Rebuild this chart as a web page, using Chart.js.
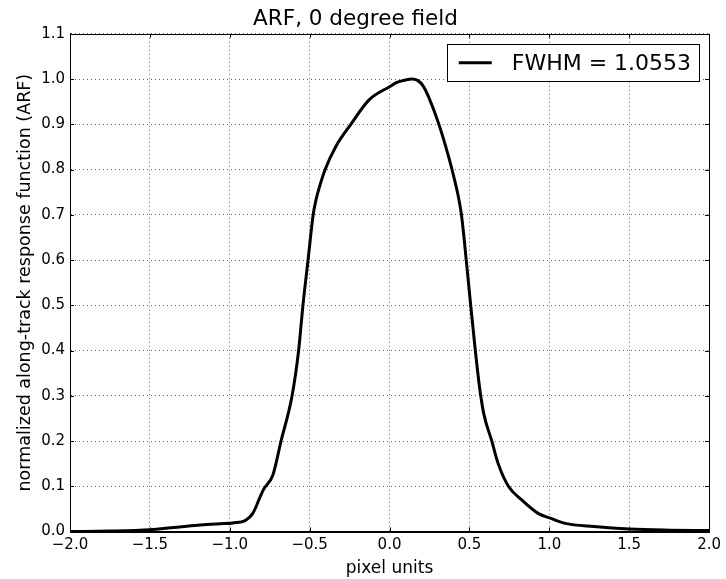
<!DOCTYPE html>
<html lang="en">
<head>
  <meta charset="UTF-8">
  <title>ARF, 0 degree field</title>
  <script src="https://cdn.jsdelivr.net/npm/chart.js"></script>
  <style>
    html, body { margin: 0; padding: 0; background: #fff; }
    #wrap { width: 726px; height: 579px; }
  </style>
</head>
<body>
  <div id="wrap"><canvas id="arf"></canvas></div>

  <script>
    // curve (pixel units vs normalized ARF)
    const xPixels = [
      -2.0, -1.75, -1.5, -1.35, -1.2, -1.06, -0.98, -0.9, -0.856, -0.814,
      -0.79, -0.73, -0.679, -0.61, -0.569, -0.542, -0.51, -0.478, -0.462, -0.451,
      -0.403, -0.336, -0.242, -0.128, 0.0, 0.05, 0.1, 0.14, 0.175, 0.21,
      0.245, 0.307, 0.37, 0.405, 0.428, 0.45, 0.466, 0.48, 0.508, 0.537, 0.563,
      0.59, 0.64, 0.68, 0.744, 0.827, 0.93, 1.01, 1.1, 1.28, 1.5, 1.75, 2.0
    ];
    const arfValues = [
      0.0, 0.001, 0.004, 0.009, 0.014, 0.017, 0.019, 0.025, 0.04, 0.073,
      0.092, 0.125, 0.20, 0.30, 0.40, 0.50, 0.60, 0.70, 0.73, 0.746,
      0.80, 0.851, 0.90, 0.954, 0.983, 0.993, 0.998, 1.0, 0.997, 0.985,
      0.96, 0.902, 0.828, 0.78, 0.745, 0.70, 0.65, 0.60, 0.50, 0.40, 0.32,
      0.26, 0.20, 0.15, 0.10, 0.07, 0.04, 0.029, 0.018, 0.011, 0.0055, 0.003, 0.002
    ];
    const seriesLabel = "FWHM = 1.0553";
    const xTicks = [-2.0, -1.5, -1.0, -0.5, 0.0, 0.5, 1.0, 1.5, 2.0];
    const yTicks = [0.0, 0.1, 0.2, 0.3, 0.4, 0.5, 0.6, 0.7, 0.8, 0.9, 1.0, 1.1];

    const points = xPixels.map((x, i) => ({ x: x, y: arfValues[i] }));
    const minus = s => s.replace("-", "\u2212");
    const FONT = "'DejaVu Sans', sans-serif";

    Chart.defaults.font.family = FONT;
    Chart.defaults.color = "#000";

    // black frame round the plot, inward ticks, and the boxed legend top right
    const frame = {
      id: "frame",
      afterDraw(chart) {
        const { ctx, chartArea: a, scales } = chart;
        ctx.save();
        ctx.strokeStyle = "#000";
        ctx.lineWidth = 1;
        ctx.beginPath();
        scales.x.ticks.forEach(t => {
          const px = Math.round(scales.x.getPixelForValue(t.value)) + 0.5;
          ctx.moveTo(px, a.bottom); ctx.lineTo(px, a.bottom - 4);
          ctx.moveTo(px, a.top); ctx.lineTo(px, a.top + 4);
        });
        scales.y.ticks.forEach(t => {
          const py = Math.round(scales.y.getPixelForValue(t.value)) + 0.5;
          ctx.moveTo(a.left, py); ctx.lineTo(a.left + 4, py);
          ctx.moveTo(a.right, py); ctx.lineTo(a.right - 4, py);
        });
        ctx.stroke();
        ctx.strokeRect(Math.round(a.left) + 0.5, Math.round(a.top) + 0.5,
          Math.round(a.right - a.left), Math.round(a.bottom - a.top));

        const ds = chart.data.datasets[0];
        ctx.font = "22px " + FONT;
        const tw = ctx.measureText(ds.label).width;
        const boxRight = a.right - 10;
        const textRight = boxRight - 8;
        const textLeft = textRight - tw;
        const lineEnd = textLeft - 20;
        const lineStart = lineEnd - 33;
        const boxLeft = lineStart - 12;
        const boxTop = a.top + 10.5;
        const boxH = 37;
        const cy = boxTop + boxH / 2;
        ctx.fillStyle = "#fff";
        ctx.fillRect(boxLeft, boxTop, boxRight - boxLeft, boxH);
        ctx.strokeRect(Math.round(boxLeft) + 0.5, Math.round(boxTop) + 0.5,
          Math.round(boxRight - boxLeft), boxH);
        ctx.beginPath();
        ctx.strokeStyle = ds.borderColor;
        ctx.lineWidth = ds.borderWidth;
        ctx.moveTo(lineStart, cy); ctx.lineTo(lineEnd, cy);
        ctx.stroke();
        ctx.fillStyle = "#000";
        ctx.textBaseline = "middle";
        ctx.textAlign = "left";
        ctx.fillText(ds.label, textLeft, cy + 1);
        ctx.restore();
      }
    };

    new Chart(document.getElementById("arf"), {
      type: "line",
      data: {
        datasets: [{
          label: seriesLabel,
          data: points,
          borderColor: "#000",
          backgroundColor: "#000",
          borderWidth: 3,
          pointRadius: 0,
          cubicInterpolationMode: "monotone",
          fill: false
        }]
      },
      options: {
        responsive: true,
        maintainAspectRatio: false,
        animation: false,
        layout: { padding: { left: 0, right: 15, top: 0, bottom: 0 } },
        plugins: {
          title: {
            display: true,
            text: "ARF, 0 degree field",
            font: { size: 21.5, weight: "normal" },
            padding: { top: 7, bottom: 1 }
          },
          legend: { display: false },
          tooltip: { enabled: false }
        },
        scales: {
          x: {
            type: "linear",
            min: -2, max: 2,
            afterBuildTicks: s => { s.ticks = xTicks.map(v => ({ value: v })); },
            afterFit: s => { s.height = 47.5; },
            ticks: {
              font: { size: 15 },
              padding: 5,
              maxRotation: 0,
              callback: v => minus(Number(v).toFixed(1))
            },
            grid: { color: "rgba(0,0,0,0.6)", lineWidth: 1, drawTicks: false },
            border: { display: true, color: "#000", dash: [1, 3] },
            title: {
              display: true,
              text: "pixel units",
              font: { size: 17 },
              padding: { top: 0, bottom: 0 }
            }
          },
          y: {
            type: "linear",
            min: 0, max: 1.1,
            afterBuildTicks: s => { s.ticks = yTicks.map(v => ({ value: v })); },
            afterFit: s => { s.width = 70; },
            ticks: {
              font: { size: 15 },
              padding: 5,
              callback: v => Number(v).toFixed(1)
            },
            grid: { color: "rgba(0,0,0,0.6)", lineWidth: 1, drawTicks: false },
            border: { display: true, color: "#000", dash: [1, 3] },
            title: {
              display: true,
              text: "normalized along-track response function (ARF)",
              font: { size: 17.5 },
              padding: { top: 15, bottom: 0 }
            }
          }
        }
      },
      plugins: [frame]
    });
  </script>
</body>
</html>
